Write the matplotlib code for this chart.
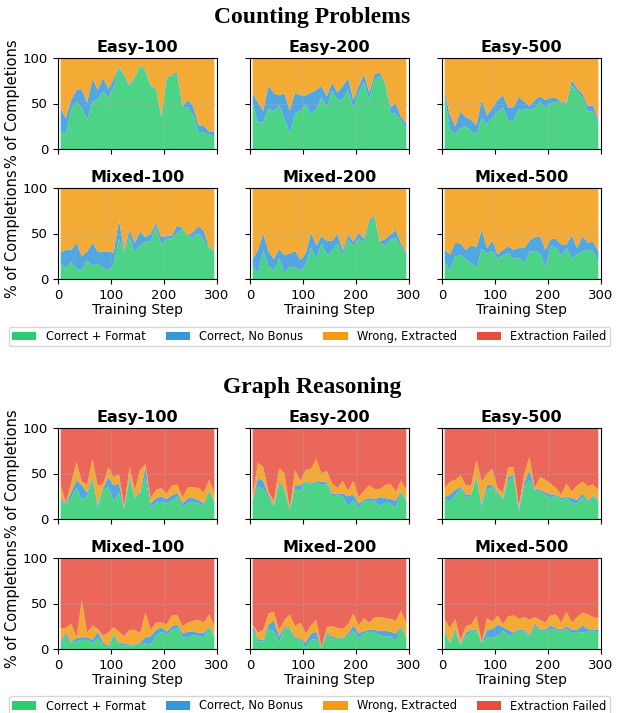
import matplotlib.pyplot as plt
from matplotlib.patches import Patch

# training steps (x axis), one point every 10 steps
steps = list(range(5, 300, 10))

labels = ["Correct + Format", "Correct, No Bonus", "Wrong, Extracted", "Extraction Failed"]
colors = ["#2ecc71", "#3498db", "#f39c12", "#e74c3c"]
panel_names = ["Easy-100", "Easy-200", "Easy-500", "Mixed-100", "Mixed-200", "Mixed-500"]

# ---- Counting Problems (% of completions) ----
cnt_failed = [0] * 30

cnt_e100_correct = [19, 17, 44, 52, 45, 32, 52, 54, 63, 57, 68, 90, 81, 68, 79, 91, 86, 69, 66, 35, 77, 81, 81, 46, 46, 37, 18, 18, 16, 14]
cnt_e100_nobonus = [25, 17, 10, 13, 20, 19, 25, 11, 15, 9, 9, 1, 1, 2, 1, 1, 1, 1, 1, 1, 1, 1, 3, 1, 8, 10, 8, 8, 3, 5]
cnt_e100_wrong = [56, 66, 46, 35, 35, 49, 23, 35, 22, 34, 23, 9, 18, 30, 20, 8, 13, 30, 33, 64, 22, 18, 16, 53, 46, 53, 74, 74, 81, 81]

cnt_e200_correct = [51, 29, 29, 45, 41, 48, 33, 17, 39, 42, 49, 38, 44, 57, 46, 64, 54, 54, 65, 45, 61, 73, 54, 76, 80, 72, 39, 39, 31, 23]
cnt_e200_nobonus = [10, 22, 13, 25, 20, 11, 28, 25, 23, 17, 10, 24, 21, 12, 12, 9, 8, 15, 13, 9, 8, 9, 8, 6, 4, 1, 7, 11, 4, 5]
cnt_e200_wrong = [39, 49, 58, 30, 39, 41, 39, 58, 38, 41, 41, 38, 35, 31, 42, 27, 38, 31, 22, 46, 31, 18, 38, 18, 16, 27, 54, 50, 65, 72]

cnt_e500_correct = [59, 21, 17, 23, 25, 20, 16, 34, 27, 34, 41, 46, 31, 31, 44, 44, 43, 45, 52, 45, 50, 52, 51, 50, 70, 63, 57, 41, 41, 27]
cnt_e500_nobonus = [4, 16, 8, 18, 10, 12, 10, 20, 10, 11, 13, 13, 14, 15, 13, 8, 4, 9, 6, 9, 6, 4, 1, 1, 6, 3, 4, 6, 7, 4]
cnt_e500_wrong = [37, 63, 75, 59, 65, 68, 74, 46, 63, 55, 46, 41, 55, 54, 43, 48, 53, 46, 42, 46, 44, 44, 48, 49, 24, 34, 39, 53, 52, 69]

cnt_m100_correct = [16, 12, 19, 11, 10, 20, 15, 17, 12, 10, 16, 44, 30, 46, 29, 37, 41, 41, 58, 38, 44, 45, 50, 55, 47, 46, 50, 43, 34, 30]
cnt_m100_nobonus = [13, 20, 13, 29, 15, 10, 25, 13, 18, 20, 13, 21, 1, 8, 11, 15, 5, 9, 4, 8, 3, 3, 9, 1, 1, 6, 8, 10, 1, 1]
cnt_m100_wrong = [71, 68, 68, 60, 75, 70, 60, 70, 70, 70, 71, 35, 69, 46, 60, 48, 54, 50, 38, 54, 53, 52, 41, 44, 52, 48, 42, 47, 65, 69]

cnt_m200_correct = [14, 6, 31, 14, 9, 23, 7, 13, 13, 9, 15, 35, 22, 39, 26, 31, 39, 26, 43, 37, 44, 40, 62, 69, 40, 37, 43, 45, 35, 26]
cnt_m200_nobonus = [8, 26, 19, 16, 13, 10, 19, 15, 18, 12, 13, 16, 15, 8, 16, 11, 11, 5, 6, 4, 7, 4, 3, 1, 1, 7, 6, 9, 4, 2]
cnt_m200_wrong = [78, 68, 50, 70, 78, 67, 74, 72, 69, 79, 72, 49, 63, 53, 58, 58, 50, 69, 51, 59, 49, 56, 35, 30, 59, 56, 51, 46, 61, 72]

cnt_m500_correct = [19, 9, 25, 26, 22, 17, 12, 33, 28, 31, 22, 26, 28, 22, 24, 17, 30, 31, 28, 12, 36, 35, 25, 34, 22, 27, 30, 32, 31, 19]
cnt_m500_nobonus = [13, 18, 15, 13, 10, 20, 23, 21, 6, 11, 5, 6, 8, 10, 10, 17, 12, 15, 19, 20, 8, 9, 13, 4, 26, 7, 17, 8, 10, 11]
cnt_m500_wrong = [68, 73, 60, 61, 68, 63, 65, 46, 66, 58, 73, 68, 64, 68, 66, 66, 58, 54, 53, 68, 56, 56, 62, 62, 52, 66, 53, 60, 59, 70]

# ---- Graph Reasoning (% of completions) ----
gr_e100_correct = [22, 15, 24, 34, 21, 25, 43, 12, 32, 35, 20, 29, 11, 45, 23, 27, 46, 12, 18, 19, 17, 20, 25, 13, 18, 18, 17, 14, 31, 18]
gr_e100_nobonus = [1, 2, 6, 9, 16, 4, 3, 3, 2, 11, 17, 10, 1, 2, 1, 2, 11, 5, 5, 6, 5, 6, 4, 4, 5, 5, 4, 3, 1, 1]
gr_e100_wrong = [14, 1, 10, 20, 4, 9, 20, 22, 4, 11, 9, 10, 2, 10, 8, 25, 3, 6, 9, 9, 6, 11, 9, 7, 12, 12, 13, 12, 11, 10]
gr_e100_failed = [63, 82, 60, 37, 59, 62, 34, 63, 62, 43, 54, 51, 86, 43, 68, 46, 40, 77, 68, 66, 72, 63, 62, 76, 65, 65, 66, 71, 57, 71]

gr_e200_correct = [20, 36, 33, 22, 14, 38, 31, 10, 33, 31, 42, 37, 41, 37, 39, 25, 26, 25, 14, 20, 13, 19, 20, 20, 14, 18, 17, 12, 30, 19]
gr_e200_nobonus = [1, 9, 9, 4, 1, 3, 2, 0, 4, 6, 0, 2, 1, 4, 2, 3, 2, 3, 11, 7, 4, 2, 3, 2, 10, 5, 5, 8, 1, 1]
gr_e200_wrong = [4, 17, 15, 4, 5, 15, 17, 1, 17, 5, 12, 16, 24, 9, 12, 11, 6, 14, 6, 15, 7, 10, 14, 11, 9, 14, 17, 10, 11, 12]
gr_e200_failed = [75, 38, 43, 70, 80, 44, 50, 89, 46, 58, 46, 45, 34, 50, 47, 61, 66, 58, 69, 58, 76, 69, 63, 67, 67, 63, 61, 70, 58, 68]

gr_e500_correct = [23, 19, 26, 34, 23, 26, 46, 11, 32, 35, 28, 22, 41, 47, 8, 35, 43, 31, 30, 26, 23, 26, 20, 24, 18, 17, 24, 18, 25, 19]
gr_e500_nobonus = [1, 8, 6, 2, 4, 1, 2, 4, 6, 2, 2, 1, 5, 2, 3, 4, 11, 1, 2, 3, 4, 1, 3, 1, 5, 4, 4, 2, 1, 2]
gr_e500_wrong = [10, 14, 11, 12, 10, 10, 17, 26, 12, 18, 4, 6, 11, 8, 3, 10, 14, 2, 14, 14, 12, 7, 4, 14, 7, 16, 13, 16, 12, 11]
gr_e500_failed = [66, 59, 57, 52, 63, 63, 35, 59, 50, 45, 66, 71, 43, 43, 86, 51, 32, 66, 54, 57, 61, 66, 73, 61, 70, 63, 59, 64, 62, 68]

gr_m100_correct = [5, 15, 7, 8, 10, 10, 7, 12, 4, 1, 16, 5, 4, 4, 4, 7, 6, 5, 15, 19, 16, 21, 23, 13, 13, 15, 14, 13, 24, 13]
gr_m100_nobonus = [3, 3, 1, 4, 3, 3, 3, 7, 3, 2, 1, 2, 2, 1, 1, 0, 7, 9, 6, 5, 3, 4, 4, 4, 6, 4, 4, 5, 1, 2]
gr_m100_wrong = [15, 5, 20, 1, 41, 5, 16, 3, 8, 15, 7, 12, 8, 16, 16, 10, 27, 7, 8, 5, 8, 12, 10, 8, 10, 12, 14, 11, 13, 10]
gr_m100_failed = [77, 77, 72, 87, 46, 82, 74, 78, 85, 82, 76, 81, 86, 79, 79, 83, 60, 79, 71, 71, 73, 63, 63, 75, 71, 69, 68, 71, 62, 75]

gr_m200_correct = [20, 9, 8, 22, 19, 8, 22, 23, 11, 9, 2, 10, 11, 1, 17, 10, 13, 11, 15, 20, 12, 17, 19, 18, 15, 14, 14, 9, 24, 13]
gr_m200_nobonus = [6, 2, 2, 5, 12, 6, 2, 1, 2, 2, 5, 7, 8, 0, 2, 3, 0, 1, 2, 6, 5, 3, 2, 3, 5, 6, 5, 8, 1, 0]
gr_m200_wrong = [1, 7, 11, 12, 10, 7, 8, 14, 12, 18, 10, 9, 13, 1, 5, 12, 10, 10, 10, 13, 9, 14, 8, 14, 15, 14, 14, 14, 17, 15]
gr_m200_failed = [73, 82, 79, 61, 59, 79, 68, 62, 75, 71, 83, 74, 68, 98, 76, 75, 77, 78, 73, 61, 74, 66, 71, 65, 65, 66, 67, 69, 58, 72]

gr_m500_correct = [19, 6, 19, 4, 14, 19, 21, 6, 13, 13, 14, 20, 15, 16, 19, 19, 13, 25, 19, 19, 22, 21, 19, 22, 17, 19, 18, 19, 20, 18]
gr_m500_nobonus = [2, 1, 3, 1, 4, 2, 1, 1, 8, 9, 13, 4, 6, 2, 2, 2, 2, 3, 2, 2, 4, 2, 2, 3, 4, 2, 8, 3, 1, 3]
gr_m500_wrong = [12, 16, 11, 5, 7, 6, 14, 1, 13, 8, 10, 3, 15, 19, 12, 14, 17, 7, 11, 8, 11, 15, 8, 16, 8, 14, 14, 16, 14, 13]
gr_m500_failed = [67, 77, 67, 90, 75, 73, 64, 92, 66, 70, 63, 73, 64, 63, 67, 65, 68, 65, 68, 71, 63, 62, 71, 59, 71, 65, 60, 62, 65, 66]

counting = [
    (cnt_e100_correct, cnt_e100_nobonus, cnt_e100_wrong, cnt_failed),
    (cnt_e200_correct, cnt_e200_nobonus, cnt_e200_wrong, cnt_failed),
    (cnt_e500_correct, cnt_e500_nobonus, cnt_e500_wrong, cnt_failed),
    (cnt_m100_correct, cnt_m100_nobonus, cnt_m100_wrong, cnt_failed),
    (cnt_m200_correct, cnt_m200_nobonus, cnt_m200_wrong, cnt_failed),
    (cnt_m500_correct, cnt_m500_nobonus, cnt_m500_wrong, cnt_failed),
]
graph = [
    (gr_e100_correct, gr_e100_nobonus, gr_e100_wrong, gr_e100_failed),
    (gr_e200_correct, gr_e200_nobonus, gr_e200_wrong, gr_e200_failed),
    (gr_e500_correct, gr_e500_nobonus, gr_e500_wrong, gr_e500_failed),
    (gr_m100_correct, gr_m100_nobonus, gr_m100_wrong, gr_m100_failed),
    (gr_m200_correct, gr_m200_nobonus, gr_m200_wrong, gr_m200_failed),
    (gr_m500_correct, gr_m500_nobonus, gr_m500_wrong, gr_m500_failed),
]

# layout in pixels of the 619x713 picture
W, H = 619, 713
col_left = [58, 250, 442]
ax_w, ax_h = 159, 91


def draw_group(fig, data, title, title_y, row_tops, legend_y):
    fig.text(0.505, 1 - title_y / H, title, ha="center", va="center",
             family="Liberation Serif", fontweight="bold", fontsize=17)
    for k, vals in enumerate(data):
        r, c = divmod(k, 3)
        top = row_tops[r]
        ax = fig.add_axes([col_left[c] / W, 1 - (top + ax_h) / H, ax_w / W, ax_h / H])
        ax.stackplot(steps, *vals, colors=colors, alpha=0.85)
        ax.set_xlim(0, 300)
        ax.set_ylim(0, 100)
        ax.set_xticks([0, 100, 200, 300])
        ax.set_yticks([0, 50, 100])
        ax.grid(True, alpha=0.3)
        ax.tick_params(labelsize=9.5)
        ax.set_title(panel_names[k], fontsize=11.5, fontweight="bold", pad=4)
        if c == 0:
            ax.set_ylabel("% of Completions", fontsize=10.5, labelpad=2)
        else:
            ax.tick_params(labelleft=False)
        if r == 1:
            ax.set_xlabel("Training Step", fontsize=10, labelpad=1)
        else:
            ax.tick_params(labelbottom=False)

    handles = [Patch(facecolor=col) for col in colors]
    fig.legend(handles, labels, loc="center left", bbox_to_anchor=(3 / W, 1 - legend_y / H),
               ncol=4, fontsize=8.3, handlelength=2.1, handletextpad=0.8,
               columnspacing=1.75, borderpad=0.3)


fig = plt.figure(figsize=(W / 100, H / 100), dpi=100)
draw_group(fig, counting, "Counting Problems", 18, [58, 188], 336.5)
draw_group(fig, graph, "Graph Reasoning", 388, [428, 558], 706)
fig.savefig("out.png", dpi=100)
